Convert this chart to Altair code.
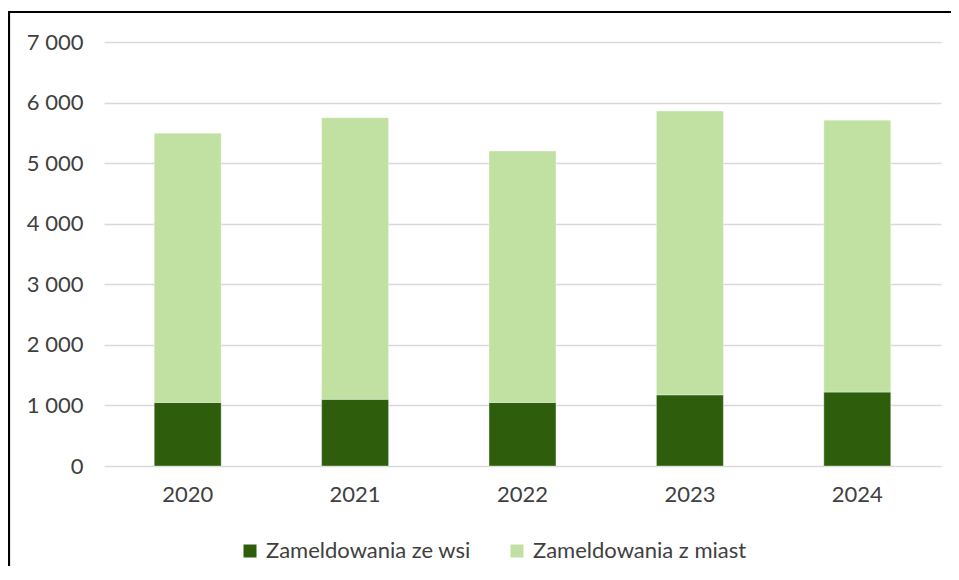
import altair as alt
import pandas as pd

years = ["2020", "2021", "2022", "2023", "2024"]
ze_wsi = [1050, 1100, 1050, 1175, 1220]
z_miast = [4445, 4650, 4150, 4685, 4490]
series = ["Zameldowania ze wsi", "Zameldowania z miast"]
colors = ["#2E5E0C", "#C0E1A1"]
y_ticks = [0, 1000, 2000, 3000, 4000, 5000, 6000, 7000]

rows = []
for i, y in enumerate(years):
    rows.append({"rok": y, "seria": series[0], "wartosc": ze_wsi[i], "kolejnosc": 0})
    rows.append({"rok": y, "seria": series[1], "wartosc": z_miast[i], "kolejnosc": 1})
df = pd.DataFrame(rows)

FONT = "Lato"
TXT = "#404040"
FS = 22

bars = alt.Chart(df).mark_bar(stroke="#ffffff", strokeWidth=0.8, strokeOpacity=0.45).encode(
    x=alt.X("rok:N", title=None, sort=years,
            scale=alt.Scale(paddingInner=0.6, paddingOuter=0.3),
            axis=alt.Axis(labelAngle=0, ticks=False, domain=False, grid=False,
                          labelFont=FONT, labelFontSize=FS, labelColor=TXT,
                          labelPadding=18)),
    y=alt.Y("wartosc:Q", title=None, stack="zero",
            scale=alt.Scale(domain=[0, 7000], nice=False),
            axis=alt.Axis(values=y_ticks, ticks=False, domain=False,
                          grid=True, gridColor="#d9d9d9", gridWidth=1.6,
                          labelFont=FONT, labelFontSize=FS, labelColor=TXT,
                          labelPadding=21,
                          labelExpr="replace(format(datum.value, ','), ',', ' ')")),
    color=alt.Color("seria:N", sort=series,
                    scale=alt.Scale(domain=series, range=colors),
                    legend=alt.Legend(title=None, orient="none", direction="horizontal",
                                      legendX=135, legendY=498,
                                      symbolType="square", symbolSize=169,
                                      symbolStrokeWidth=0,
                                      labelFont=FONT, labelFontSize=FS, labelColor=TXT,
                                      labelLimit=0, labelOffset=5, columnPadding=35)),
    order=alt.Order("kolejnosc:Q", sort="ascending"),
)

frame_df = pd.DataFrame({"k": [0]})
left_line = alt.Chart(frame_df).mark_rule(color="#000000", strokeWidth=2.2).encode(
    x=alt.value(-95), y=alt.value(-30), y2=alt.value(600)
)
top_line = alt.Chart(frame_df).mark_rule(color="#000000", strokeWidth=2.2).encode(
    x=alt.value(-96), x2=alt.value(900), y=alt.value(-30)
)

chart = alt.layer(bars, left_line, top_line).properties(
    width=837, height=424,
    background="#ffffff",
    autosize=alt.AutoSizeParams(type="none"),
    padding={"left": 96, "top": 34, "right": 10, "bottom": 100},
).configure_view(stroke=None)

chart.save("out.html", embed_options={"renderer": "svg", "actions": False})
